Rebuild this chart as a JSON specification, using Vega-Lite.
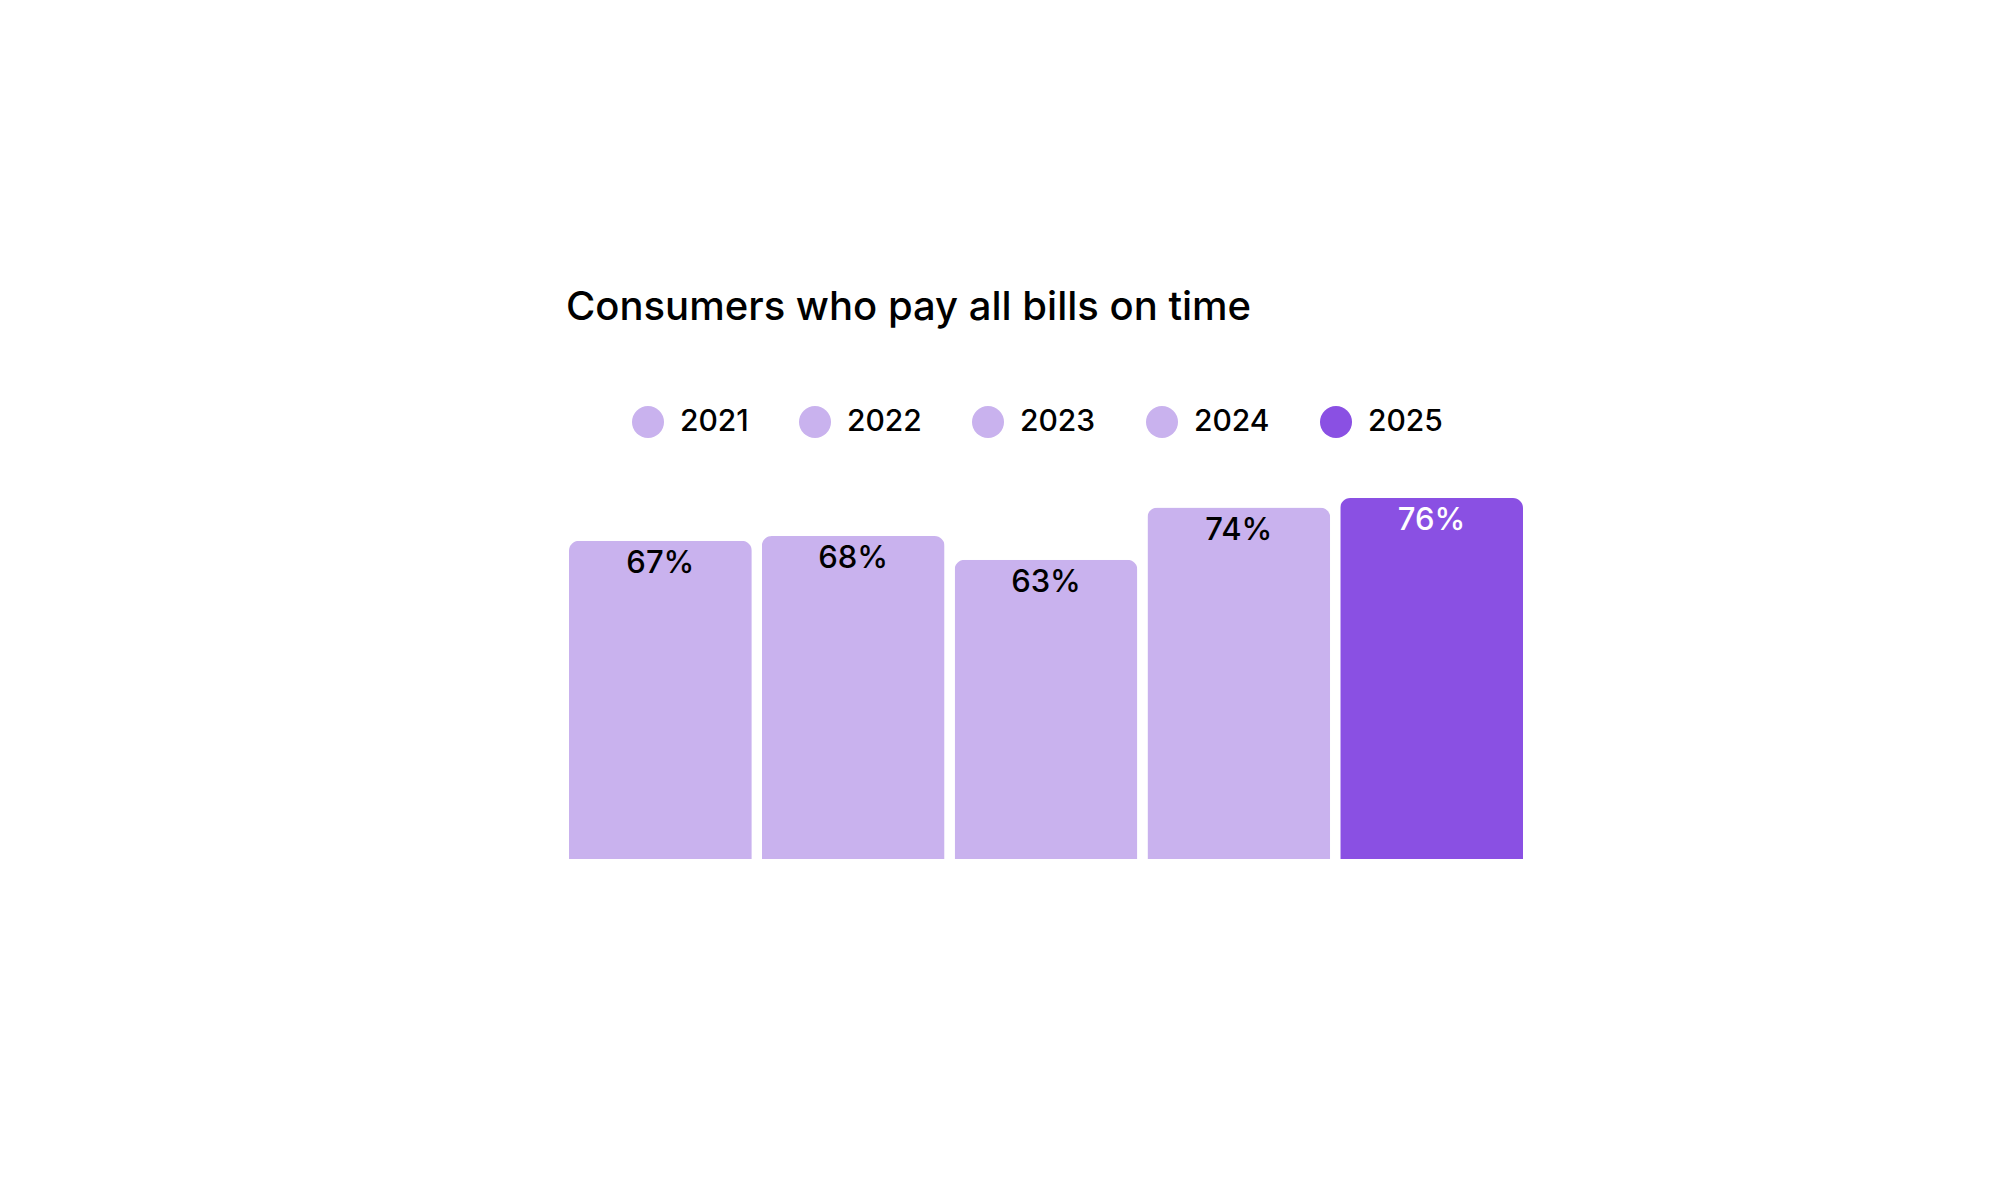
{
  "$schema": "https://vega.github.io/schema/vega-lite/v6.json",
  "autosize": {"type": "none"},
  "width": 954,
  "height": 361,
  "padding": {"left": 569, "top": 498, "right": 477, "bottom": 341},
  "background": "white",
  "title": {
    "text": "Consumers who pay all bills on time",
    "anchor": "start",
    "frame": "group",
    "font": "Inter",
    "fontSize": 40,
    "fontWeight": 500,
    "color": "black",
    "dx": -3,
    "offset": 78
  },
  "config": {
    "view": {"stroke": null},
    "font": "Inter"
  },
  "data": {
    "values": [
      {"year": "2021", "pct": 67, "label": "67%"},
      {"year": "2022", "pct": 68, "label": "68%"},
      {"year": "2023", "pct": 63, "label": "63%"},
      {"year": "2024", "pct": 74, "label": "74%"},
      {"year": "2025", "pct": 76, "label": "76%"}
    ]
  },
  "encoding": {
    "x": {
      "field": "year",
      "type": "nominal",
      "axis": null,
      "scale": {"paddingInner": 0.052, "paddingOuter": 0}
    },
    "y": {
      "field": "pct",
      "type": "quantitative",
      "axis": null,
      "scale": {"domain": [0, 76], "nice": false, "zero": true}
    }
  },
  "layer": [
    {
      "mark": {"type": "bar", "cornerRadiusTopLeft": 10, "cornerRadiusTopRight": 10},
      "encoding": {
        "color": {
          "field": "year",
          "type": "nominal",
          "scale": {
            "domain": ["2021", "2022", "2023", "2024", "2025"],
            "range": ["#C9B2EE", "#C9B2EE", "#C9B2EE", "#C9B2EE", "#8A50E3"]
          },
          "legend": {
            "title": null,
            "orient": "none",
            "direction": "horizontal",
            "legendX": 63,
            "legendY": -92,
            "symbolType": "circle",
            "symbolSize": 1024,
            "symbolStrokeWidth": 0,
            "symbolOpacity": 1,
            "labelFont": "Inter",
            "labelFontSize": 30,
            "labelFontWeight": 500,
            "labelColor": "black",
            "labelOffset": 16,
            "columnPadding": 50
          }
        }
      }
    },
    {
      "mark": {
        "type": "text",
        "baseline": "alphabetic",
        "dy": 32,
        "font": "Inter",
        "fontSize": 31,
        "fontWeight": 500
      },
      "encoding": {
        "text": {"field": "label"},
        "color": {
          "condition": {"test": "datum.year == '2025'", "value": "white"},
          "value": "black"
        }
      }
    }
  ]
}
